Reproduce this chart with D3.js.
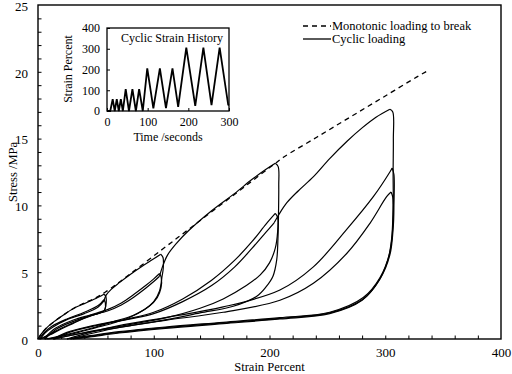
<!DOCTYPE html>
<meta charset="utf-8">
<script src="https://cdn.jsdelivr.net/npm/d3@7"></script>
<style>
  body { margin: 0; background: #fff; }
  svg text { font-family: "Liberation Serif", "Times New Roman", serif !important; fill: #000; }
</style>
<div id="chart"></div>
<script>

// monotonic test, strain % vs stress MPa
var monotonic = [[0,0],[3,0.4],[7,0.8],[14,1.3],[22,1.8],[31,2.3],[40,2.7],[48,3.0],[58,3.5],[80,4.9],[108,6.75],[130,8.2],[155,9.85],[180,11.5],[205,13.15],[212,13.6],[240.8,15.1],[269.5,16.6],[298.3,18.1],[327,19.6],[336.3,20.06]];

// cyclic test, one array per branch, in the order they were run
var load57 = [[0,0],[3,0.4],[7,0.8],[13.8,1.3],[22,1.8],[31,2.3],[40,2.65],[48.4,2.97],[57,3.35]];
var unload57a = [[57,3.35],[58.5,3.2],[58.6,2.5],[57,2.1],[50,1.85],[40,1.55],[30,1.2],[20,0.8],[10,0.35],[3,0.05],[1,0]];
var reload57b = [[1,0],[5,0.45],[12,0.95],[25,1.5],[40,2.0],[52,2.5],[57,2.95]];
var unload57b = [[57,2.95],[58.2,2.7],[57.6,2.15],[55,2.0],[45,1.75],[30,1.15],[20,0.75],[10,0.3],[2,0]];
var reload57c = [[2,0],[6,0.45],[13,0.9],[25,1.45],[40,1.9],[52,2.4],[57,2.85]];

var load105 = [[57,2.85],[59,3.3],[63,3.7],[70,4.2],[80,4.85],[90,5.45],[100,6.0],[106,6.35]];
var unload105a = [[106,6.35],[108,6.1],[108.2,5.3],[107.2,4.7],[105,3.6],[100,2.8],[92,2.2],[80,1.65],[65,1.2],[50,0.85],[35,0.5],[20,0.2],[8,0]];
var reload105b = [[5,0],[15,0.8],[30,1.4],[45,1.8],[60,2.2],[72,2.7],[83,3.35],[93,4.0],[100,4.5],[105,4.9]];
var unload105b = [[105,4.9],[106.5,4.6],[106.2,3.8],[103,3.1],[96,2.45],[83,1.8],[65,1.3],[50,0.9],[30,0.45],[15,0.15],[6,0]];
var reload105c = [[6,0],[16,0.75],[30,1.3],[45,1.75],[60,2.1],[72,2.55],[83,3.15],[93,3.8],[100,4.3],[105,4.7]];

var load205 = [[105,4.7],[107.5,5.4],[112,6.3],[120,7.2],[130,8.1],[150,9.6],[170,10.9],[185,11.95],[197,12.7],[205,13.15]];
var unload205a = [[205,13.15],[207.5,12.9],[208,11.5],[207.8,9.5],[207.3,7.5],[206.2,5.9],[203,4.7],[197,3.9],[189,3.2],[168.7,2.45],[140,1.95],[111,1.45],[80,1.0],[50,0.6],[30,0.3],[13,0]];
var reload205b = [[13,0],[25,0.5],[50,1.05],[80,1.55],[100,2.0],[125,3.0],[150,4.4],[170,5.9],[185,7.3],[197,8.6],[205,9.4]];
var unload205b = [[205,9.4],[207,9.1],[207,8.0],[205,6.8],[200,5.7],[192,4.8],[180,4.0],[160,3.0],[140,2.3],[111,1.6],[80,1.1],[50,0.65],[30,0.3],[14,0]];
var reload205c = [[14,0],[27,0.5],[50,1.0],[80,1.5],[100,1.9],[125,2.8],[150,4.0],[170,5.4],[185,6.8],[197,8.0],[204,8.7]];

var load305 = [[204,8.7],[208,9.3],[215,10.2],[225,11.1],[238,12.15],[252,13.5],[267,14.8],[280,15.8],[292,16.6],[304,17.2]];
var unload305a = [[304,17.2],[306.5,17.0],[307,15],[306.8,12.5],[306.7,8.7],[304,6.5],[295.5,4.6],[281,3.1],[252,2.0],[209,1.6],[160,1.25],[110,0.9],[70,0.55],[45,0.25],[25,0]];
var reload305b = [[25,0],[45,0.5],[70,1.0],[110,1.6],[160,2.4],[209,3.67],[237.9,5.4],[266.7,8.2],[289.7,10.65],[304,12.5],[306,12.8]];
var unload305b = [[306,12.8],[307.5,12.3],[307.5,10],[307,8.5],[304,6.3],[295.5,4.5],[281,3.0],[252,1.95],[209,1.55],[160,1.2],[110,0.85],[70,0.5],[45,0.2],[28,0]];
var reload305c = [[28,0],[48,0.45],[72,0.9],[110,1.4],[160,2.0],[209,2.9],[237.9,4.17],[266.7,6.4],[286.8,8.66],[301.2,10.65],[305,11.0]];
var unload305c = [[305,11.0],[306.5,10.6],[306.5,9],[305.5,7.5],[302.5,6.0],[294,4.3],[280,2.9],[252,1.9],[209,1.5],[160,1.15],[110,0.8],[70,0.45],[45,0.15],[30,0]];

var cyclic = [load57, unload57a, reload57b, unload57b, reload57c,
              load105, unload105a, reload105b, unload105b, reload105c,
              load205, unload205a, reload205b, unload205b, reload205c,
              load305, unload305a, reload305b, unload305b, reload305c, unload305c];

// inset: strain history
var histTime =   [0, 8, 14, 19, 24, 29, 34, 39, 46, 54, 62.5, 71, 79, 88, 99, 114, 130, 145, 161, 175, 195, 217, 237, 257, 277, 298, 300];
var histStrain = [0, 0, 57, 0, 57, 0, 57, 0, 105, 0, 105, 0, 105, 0, 205, 13, 205, 14, 205, 20, 305, 25, 305, 28, 305, 30, 28];

var xTicks = [0, 100, 200, 300, 400];
var yTicks = [0, 5, 10, 15, 20, 25];
var insetXTicks = [0, 100, 200, 300];
var insetYTicks = [0, 100, 200, 300, 400];

var serif = "Liberation Serif, Times New Roman, serif";

var svg = d3.select("#chart").append("svg")
    .attr("width", 512)
    .attr("height", 374)
    .attr("font-family", serif);

var x = d3.scaleLinear().domain([0, 400]).range([38, 501]);
var y = d3.scaleLinear().domain([0, 25]).range([339, 5]);

// minor ticks
svg.append("g")
    .attr("transform", "translate(0,339)")
    .call(d3.axisBottom(x).tickValues(d3.range(20, 400, 20)).tickSize(-3.5).tickFormat(""))
    .call(g => g.select(".domain").remove());
svg.append("g")
    .attr("transform", "translate(38,0)")
    .call(d3.axisLeft(y).tickValues(d3.range(1, 25, 1)).tickSize(-3.5).tickFormat(""))
    .call(g => g.select(".domain").remove());

// major labels
svg.append("g")
    .attr("transform", "translate(0,339)")
    .call(d3.axisBottom(x).tickValues(xTicks).tickSize(0).tickPadding(9))
    .attr("font-family", serif).attr("font-size", 13)
    .call(g => g.select(".domain").remove());
svg.append("g")
    .attr("transform", "translate(38,0)")
    .call(d3.axisLeft(y).tickValues(yTicks).tickSize(0).tickPadding(10))
    .attr("font-family", serif).attr("font-size", 13)
    .call(g => g.select(".domain").remove())
    .call(g => g.selectAll(".tick text").attr("dy", "0.4em"));

svg.append("rect")
    .attr("x", 38).attr("y", 5)
    .attr("width", 463).attr("height", 334)
    .attr("fill", "none").attr("stroke", "#000").attr("stroke-width", 1.4);

// curves
var line = d3.line()
    .x(function(d) { return x(d[0]); })
    .y(function(d) { return y(d[1]); })
    .curve(d3.curveCatmullRom.alpha(0.5));

svg.append("path")
    .datum(monotonic)
    .attr("fill", "none")
    .attr("stroke", "#000")
    .attr("stroke-width", 1.3)
    .attr("stroke-dasharray", "5,4")
    .attr("d", line);

svg.selectAll(".cyc")
    .data(cyclic)
  .enter().append("path")
    .attr("class", "cyc")
    .attr("fill", "none")
    .attr("stroke", "#000")
    .attr("stroke-width", 1.2)
    .attr("d", line);

// axis titles
svg.append("text")
    .attr("x", 269.5).attr("y", 371)
    .attr("text-anchor", "middle")
    .attr("font-size", 12.5)
    .text("Strain Percent");
svg.append("text")
    .attr("transform", "translate(17,172) rotate(-90)")
    .attr("text-anchor", "middle")
    .attr("font-size", 12.5)
    .text("Stress /MPa");

// legend
var legend = svg.append("g");
legend.append("line")
    .attr("x1", 303).attr("x2", 331).attr("y1", 26).attr("y2", 26)
    .attr("stroke", "#000").attr("stroke-width", 1.3).attr("stroke-dasharray", "5,4");
legend.append("line")
    .attr("x1", 303).attr("x2", 331).attr("y1", 39).attr("y2", 39)
    .attr("stroke", "#000").attr("stroke-width", 1.3);
legend.append("text").attr("x", 332).attr("y", 30).attr("font-size", 12.5).text("Monotonic loading to break");
legend.append("text").attr("x", 332).attr("y", 43).attr("font-size", 12.5).text("Cyclic loading");

// inset
var ix = d3.scaleLinear().domain([0, 300]).range([107, 229]);
var iy = d3.scaleLinear().domain([0, 400]).range([111, 28]);

var inset = svg.append("g");
inset.append("rect")
    .attr("x", 107).attr("y", 28)
    .attr("width", 122).attr("height", 83)
    .attr("fill", "#fff").attr("stroke", "#000").attr("stroke-width", 1.3);

inset.append("g")
    .attr("transform", "translate(0,111)")
    .call(d3.axisBottom(ix).tickValues(insetXTicks).tickSize(-3).tickPadding(6))
    .attr("font-family", serif).attr("font-size", 12)
    .call(g => g.select(".domain").remove());
inset.append("g")
    .attr("transform", "translate(107,0)")
    .call(d3.axisLeft(iy).tickValues(insetYTicks).tickSize(-3).tickPadding(7))
    .attr("font-family", serif).attr("font-size", 12)
    .call(g => g.select(".domain").remove());

var hist = histTime.map(function(t, i) { return [t, histStrain[i]]; });
inset.append("path")
    .datum(hist)
    .attr("fill", "none")
    .attr("stroke", "#000")
    .attr("stroke-width", 1.8)
    .attr("d", d3.line()
      .x(function(d) { return ix(d[0]); })
      .y(function(d) { return iy(d[1]); }));

inset.append("text")
    .attr("x", 223).attr("y", 42)
    .attr("text-anchor", "end")
    .attr("font-size", 12)
    .text("Cyclic Strain History");
inset.append("text")
    .attr("x", 168).attr("y", 141)
    .attr("text-anchor", "middle")
    .attr("font-size", 12)
    .text("Time /seconds");
inset.append("text")
    .attr("transform", "translate(72,69) rotate(-90)")
    .attr("text-anchor", "middle")
    .attr("font-size", 12)
    .text("Strain Percent");

</script>
